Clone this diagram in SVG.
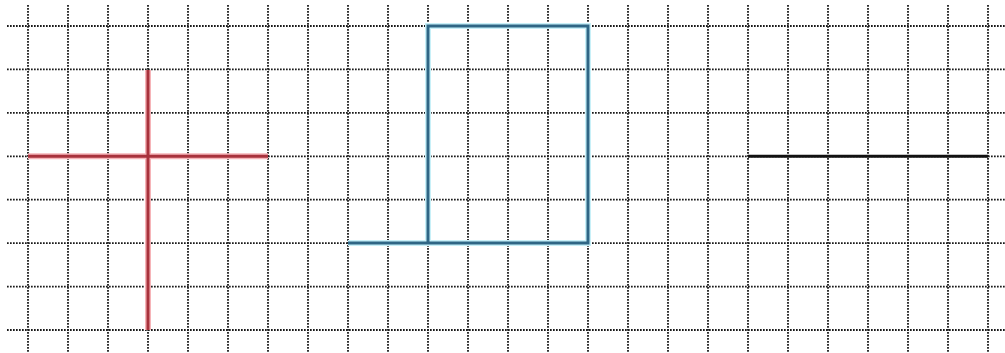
<svg xmlns="http://www.w3.org/2000/svg" width="1005" height="353" viewBox="0 0 1005 353">
<style>
.g{stroke:#1a1a1a;stroke-width:1.8;stroke-dasharray:1.7 1.3;fill:none}
.halo{fill:none;stroke-width:6;stroke-linecap:butt;stroke-linejoin:miter}
.core{fill:none;stroke-width:3;stroke-linecap:butt;stroke-linejoin:miter}
</style>
<rect width="1005" height="353" fill="#fff"/>
<g id="grid">
<g id="vlines">
<line class="g" x1="28" y1="5" x2="28" y2="353"/>
<line class="g" x1="68" y1="5" x2="68" y2="353"/>
<line class="g" x1="108" y1="5" x2="108" y2="353"/>
<line class="g" x1="148" y1="5" x2="148" y2="353"/>
<line class="g" x1="188" y1="5" x2="188" y2="353"/>
<line class="g" x1="228" y1="5" x2="228" y2="353"/>
<line class="g" x1="268" y1="5" x2="268" y2="353"/>
<line class="g" x1="308" y1="5" x2="308" y2="353"/>
<line class="g" x1="348" y1="5" x2="348" y2="353"/>
<line class="g" x1="388" y1="5" x2="388" y2="353"/>
<line class="g" x1="428" y1="5" x2="428" y2="353"/>
<line class="g" x1="468" y1="5" x2="468" y2="353"/>
<line class="g" x1="508" y1="5" x2="508" y2="353"/>
<line class="g" x1="548" y1="5" x2="548" y2="353"/>
<line class="g" x1="588" y1="5" x2="588" y2="353"/>
<line class="g" x1="628" y1="5" x2="628" y2="353"/>
<line class="g" x1="668" y1="5" x2="668" y2="353"/>
<line class="g" x1="708" y1="5" x2="708" y2="353"/>
<line class="g" x1="748" y1="5" x2="748" y2="353"/>
<line class="g" x1="788" y1="5" x2="788" y2="353"/>
<line class="g" x1="828" y1="5" x2="828" y2="353"/>
<line class="g" x1="868" y1="5" x2="868" y2="353"/>
<line class="g" x1="908" y1="5" x2="908" y2="353"/>
<line class="g" x1="948" y1="5" x2="948" y2="353"/>
<line class="g" x1="988" y1="5" x2="988" y2="353"/>
</g>
<g id="hlines">
<line class="g" x1="7" y1="26" x2="1005" y2="26"/>
<line class="g" x1="7" y1="69.4" x2="1005" y2="69.4"/>
<line class="g" x1="7" y1="112.9" x2="1005" y2="112.9"/>
<line class="g" x1="7" y1="156.3" x2="1005" y2="156.3"/>
<line class="g" x1="7" y1="199.7" x2="1005" y2="199.7"/>
<line class="g" x1="7" y1="243.1" x2="1005" y2="243.1"/>
<line class="g" x1="7" y1="286.6" x2="1005" y2="286.6"/>
<line class="g" x1="7" y1="330" x2="1005" y2="330"/>
</g>
</g>
<g id="red-cross">
<path class="halo" stroke="#f6b4b8" d="M148 70V330M28 156.3H268"/>
<path class="core" stroke="#a8323c" d="M148 70V330M28 156.3H268"/>
</g>
<g id="blue-shape">
<path class="halo" stroke="#c8f0f8" d="M348 243.1H588V26H428V243.1"/>
<path class="core" stroke="#2f6685" d="M348 243.1H588V26H428V243.1"/>
</g>
<g id="black-line">
<path class="core" stroke="#111" d="M748 156.3H988"/>
</g>
</svg>
